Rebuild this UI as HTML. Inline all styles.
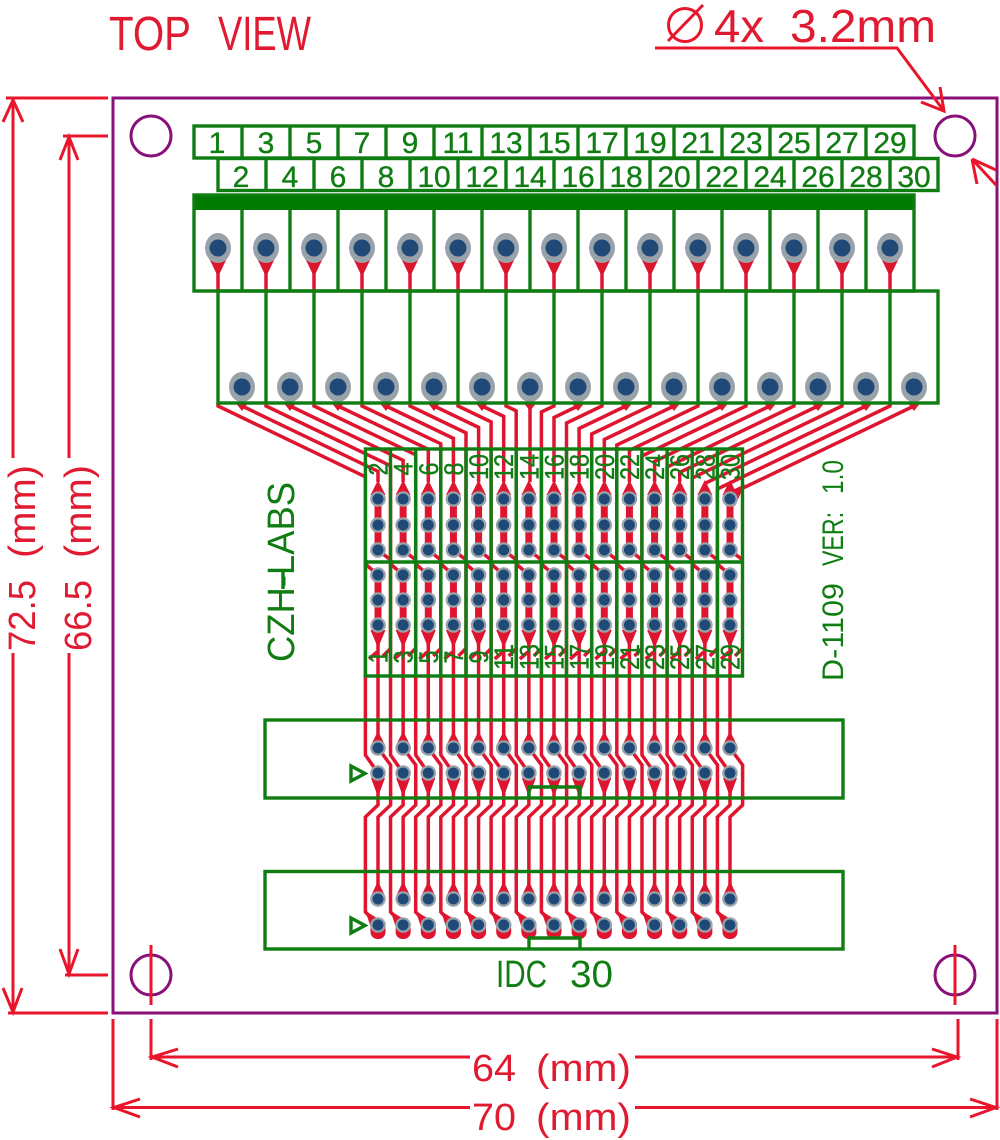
<!DOCTYPE html>
<html>
<head>
<meta charset="utf-8">
<style>
html,body{margin:0;padding:0;background:#fff}
svg{display:block}
text{font-family:"Liberation Sans",sans-serif}
.r{fill:none;stroke:#df1530;stroke-width:3.5}
.d{fill:none;stroke:#e8152b;stroke-width:3}
.gt text{fill:#0f7d12;stroke:#0f7d12;stroke-width:.35}
text.g{fill:#0f7d12}
.rt{fill:#e01a30}
.gs{fill:none;stroke:#0f7d12;stroke-width:3.4}
</style>
</head>
<body>
<svg width="1000" height="1140" viewBox="0 0 1000 1140" xmlns="http://www.w3.org/2000/svg">
<defs>
<g id="pad"><circle r="7.8" fill="#99a2a8"/><circle r="5.5" fill="#1f4a78"/></g>
<g id="top"><polygon points="-9,258 9,258 0,277" fill="#df1530"/><line x1="0" y1="270" x2="0" y2="291" stroke="#df1530" stroke-width="3.5"/><ellipse cy="248" rx="13" ry="15" fill="#99a2a8"/><circle cy="248" r="8.5" fill="#1f4a78"/></g>
<g id="bot"><polygon points="-7,402 7,402 0,411" fill="#df1530"/><ellipse cy="387" rx="13" ry="15" fill="#99a2a8"/><circle cy="387" r="8.5" fill="#1f4a78"/></g>
<g id="col">
<path class="r" d="M-12.6 676V755L0 773M0 640V748M0 748L12.6 765V805L0 817V899M0 773V805L-12.6 817V912L0 925"/>
<path d="M0 490V550M0 575V635" stroke="#df1530" stroke-width="7" fill="none"/>
<polygon points="-7.500,495 0,480 7.500,495" fill="#df1530"/>
<polygon points="-7.500,630 0,648 7.500,630" fill="#df1530"/>
<path class="r" d="M0 550L12.6 560M-12.6 564L0 575M-9 659L-1 652M5 656L12 649"/>
<polygon points="-7,745 0,731 7,745" fill="#df1530"/>
<polygon points="-7,778 0,797 7,778" fill="#df1530"/>
<polygon points="-7,896 0,881 7,896" fill="#df1530"/>
<polygon points="-12.600,911 -1,918 -7,928" fill="#df1530"/>
<rect x="-7.500" y="922" width="15" height="17" rx="7" fill="#df1530"/>
<use href="#pad" y="499"/><use href="#pad" y="525"/><use href="#pad" y="550"/>
<use href="#pad" y="575"/><use href="#pad" y="600"/><use href="#pad" y="625"/>
<use href="#pad" y="748"/><use href="#pad" y="773"/><use href="#pad" y="899"/><use href="#pad" y="925"/>
</g>
</defs>

<!-- board -->
<rect x="113" y="98" width="884" height="915" fill="#fff" stroke="#8a0f78" stroke-width="3"/>
<g fill="none" stroke="#8a0f78" stroke-width="3">
<circle cx="151" cy="136" r="20"/><circle cx="955" cy="136" r="20"/><circle cx="151" cy="975" r="20"/><circle cx="955" cy="975" r="20"/>
</g>

<!-- traces: odd -->
<g class="r">
<path d="M218 403V406L365.4 476.8V676"/><path d="M266 403V406L390.5 465.8V676"/><path d="M314 403V406L415.7 454.8V676"/><path d="M362 403V406L440.8 443.8V676"/><path d="M410 403V406L466 432.9V676"/><path d="M458 403V406L491.1 421.9V676"/><path d="M506 403V406L516.2 410.9V676"/><path d="M554 403V406L541.4 412V676"/><path d="M602 403V406L566.5 423V676"/><path d="M650 403V406L591.7 434V676"/><path d="M698 403V406L616.8 445V676"/><path d="M746 403V406L641.9 456V676"/><path d="M794 403V406L667.1 467V676"/><path d="M842 403V406L692.2 478V676"/><path d="M890 403V406L717.4 489V676"/>
<!-- even -->
<path d="M242 403V406L378 471.3V482"/><path d="M290 403V406L403.1 460.3V482"/><path d="M338 403V406L428.3 449.3V482"/><path d="M386 403V406L453.4 438.4V482"/><path d="M434 403V406L478.6 427.4V482"/><path d="M482 403V406L503.7 416.4V482"/><path d="M530 403V482"/><path d="M578 403V406L554 417.5V482"/><path d="M626 403V406L579.1 428.5V482"/><path d="M674 403V406L604.3 439.5V482"/><path d="M722 403V406L629.4 450.4V482"/><path d="M770 403V406L654.6 461.4V482"/><path d="M818 403V406L679.7 472.4V482"/><path d="M866 403V406L704.9 483.4"/><path d="M914 403V406L730 494.3"/>
</g>
<polygon points="745,484 724,494 735,506" fill="#df1530"/>

<!-- columns -->
<use href="#col" x="378"/><use href="#col" x="403.14"/><use href="#col" x="428.29"/><use href="#col" x="453.43"/><use href="#col" x="478.57"/><use href="#col" x="503.71"/><use href="#col" x="528.86"/><use href="#col" x="554"/><use href="#col" x="579.14"/><use href="#col" x="604.29"/><use href="#col" x="629.43"/><use href="#col" x="654.57"/><use href="#col" x="679.71"/><use href="#col" x="704.86"/><use href="#col" x="730"/>

<!-- terminal pads -->
<use href="#top" x="218"/><use href="#top" x="266"/><use href="#top" x="314"/><use href="#top" x="362"/><use href="#top" x="410"/><use href="#top" x="458"/><use href="#top" x="506"/><use href="#top" x="554"/><use href="#top" x="602"/><use href="#top" x="650"/><use href="#top" x="698"/><use href="#top" x="746"/><use href="#top" x="794"/><use href="#top" x="842"/><use href="#top" x="890"/>
<use href="#bot" x="242"/><use href="#bot" x="290"/><use href="#bot" x="338"/><use href="#bot" x="386"/><use href="#bot" x="434"/><use href="#bot" x="482"/><use href="#bot" x="530"/><use href="#bot" x="578"/><use href="#bot" x="626"/><use href="#bot" x="674"/><use href="#bot" x="722"/><use href="#bot" x="770"/><use href="#bot" x="818"/><use href="#bot" x="866"/><use href="#bot" x="914"/>

<!-- silkscreen -->
<rect x="194" y="195" width="721" height="15" fill="#007a00"/>
<g class="gs">
<rect x="194" y="126" width="720" height="32"/>
<rect x="218" y="158.5" width="720" height="32"/>
<rect x="194" y="195" width="720" height="96"/>
<rect x="218" y="291" width="720" height="112"/>
<path d="M242 126V158M290 126V158M338 126V158M386 126V158M434 126V158M482 126V158M530 126V158M578 126V158M626 126V158M674 126V158M722 126V158M770 126V158M818 126V158M866 126V158"/>
<path d="M266 158V190M314 158V190M362 158V190M410 158V190M458 158V190M506 158V190M554 158V190M602 158V190M650 158V190M698 158V190M746 158V190M794 158V190M842 158V190M890 158V190"/>
<path d="M242 210V291M290 210V291M338 210V291M386 210V291M434 210V291M482 210V291M530 210V291M578 210V291M626 210V291M674 210V291M722 210V291M770 210V291M818 210V291M866 210V291"/>
<path d="M266 291V403M314 291V403M362 291V403M410 291V403M458 291V403M506 291V403M554 291V403M602 291V403M650 291V403M698 291V403M746 291V403M794 291V403M842 291V403M890 291V403"/>
<rect x="365.4" y="449" width="377.1" height="227"/>
<line x1="365.4" y1="562" x2="742.5" y2="562"/>
<path d="M390.5 449V676M415.7 449V676M440.8 449V676M466 449V676M491.1 449V676M516.2 449V676M541.4 449V676M566.5 449V676M591.7 449V676M616.8 449V676M641.9 449V676M667.1 449V676M692.2 449V676M717.4 449V676"/>
<rect x="265" y="720" width="578" height="78"/>
<path d="M529 798V787H580V798"/>
<rect x="265" y="871.5" width="578" height="77.5"/>
<path d="M529 949V938H580V949"/>
<polygon points="351,766 365,773.500 351,781"/>
<polygon points="351,918 365,925.500 351,933"/>
<line x1="283" y1="589" x2="283" y2="570"/>
</g>

<!-- terminal labels -->
<g class="gt" font-size="30" text-anchor="middle">
<text x="217" y="153">1</text><text x="266" y="153">3</text><text x="314" y="153">5</text><text x="362" y="153">7</text><text x="410" y="153">9</text><text x="458" y="153">11</text><text x="506" y="153">13</text><text x="554" y="153">15</text><text x="602" y="153">17</text><text x="650" y="153">19</text><text x="698" y="153">21</text><text x="746" y="153">23</text><text x="794" y="153">25</text><text x="842" y="153">27</text><text x="890" y="153">29</text>
<text x="241" y="187">2</text><text x="290" y="187">4</text><text x="338" y="187">6</text><text x="386" y="187">8</text><text x="434" y="187">10</text><text x="482" y="187">12</text><text x="530" y="187">14</text><text x="578" y="187">16</text><text x="626" y="187">18</text><text x="674" y="187">20</text><text x="722" y="187">22</text><text x="770" y="187">24</text><text x="818" y="187">26</text><text x="866" y="187">28</text><text x="914" y="187">30</text>
</g>

<!-- header labels -->
<g class="gt" font-size="27" text-anchor="middle">
<text transform="translate(387.500 469) rotate(-90)" textLength="13" lengthAdjust="spacingAndGlyphs">2</text>
<text transform="translate(412.600 469) rotate(-90)" textLength="13" lengthAdjust="spacingAndGlyphs">4</text>
<text transform="translate(437.800 469) rotate(-90)" textLength="13" lengthAdjust="spacingAndGlyphs">6</text>
<text transform="translate(462.900 469) rotate(-90)" textLength="13" lengthAdjust="spacingAndGlyphs">8</text>
<text transform="translate(488.100 467) rotate(-90)" textLength="26" lengthAdjust="spacingAndGlyphs">10</text>
<text transform="translate(513.200 467) rotate(-90)" textLength="26" lengthAdjust="spacingAndGlyphs">12</text>
<text transform="translate(538.400 467) rotate(-90)" textLength="26" lengthAdjust="spacingAndGlyphs">14</text>
<text transform="translate(563.500 467) rotate(-90)" textLength="26" lengthAdjust="spacingAndGlyphs">16</text>
<text transform="translate(588.600 467) rotate(-90)" textLength="26" lengthAdjust="spacingAndGlyphs">18</text>
<text transform="translate(613.800 467) rotate(-90)" textLength="26" lengthAdjust="spacingAndGlyphs">20</text>
<text transform="translate(638.900 467) rotate(-90)" textLength="26" lengthAdjust="spacingAndGlyphs">22</text>
<text transform="translate(664.100 467) rotate(-90)" textLength="26" lengthAdjust="spacingAndGlyphs">24</text>
<text transform="translate(689.200 467) rotate(-90)" textLength="26" lengthAdjust="spacingAndGlyphs">26</text>
<text transform="translate(714.400 467) rotate(-90)" textLength="26" lengthAdjust="spacingAndGlyphs">28</text>
<text transform="translate(739.500 467) rotate(-90)" textLength="26" lengthAdjust="spacingAndGlyphs">30</text>
<text transform="translate(387.500 657) rotate(-90)" textLength="13" lengthAdjust="spacingAndGlyphs">1</text>
<text transform="translate(412.600 657) rotate(-90)" textLength="13" lengthAdjust="spacingAndGlyphs">3</text>
<text transform="translate(437.800 657) rotate(-90)" textLength="13" lengthAdjust="spacingAndGlyphs">5</text>
<text transform="translate(462.900 657) rotate(-90)" textLength="13" lengthAdjust="spacingAndGlyphs">7</text>
<text transform="translate(488.100 657) rotate(-90)" textLength="13" lengthAdjust="spacingAndGlyphs">9</text>
<text transform="translate(513.200 657) rotate(-90)" textLength="26" lengthAdjust="spacingAndGlyphs">11</text>
<text transform="translate(538.400 657) rotate(-90)" textLength="26" lengthAdjust="spacingAndGlyphs">13</text>
<text transform="translate(563.500 657) rotate(-90)" textLength="26" lengthAdjust="spacingAndGlyphs">15</text>
<text transform="translate(588.600 657) rotate(-90)" textLength="26" lengthAdjust="spacingAndGlyphs">17</text>
<text transform="translate(613.800 657) rotate(-90)" textLength="26" lengthAdjust="spacingAndGlyphs">19</text>
<text transform="translate(638.900 657) rotate(-90)" textLength="26" lengthAdjust="spacingAndGlyphs">21</text>
<text transform="translate(664.100 657) rotate(-90)" textLength="26" lengthAdjust="spacingAndGlyphs">23</text>
<text transform="translate(689.200 657) rotate(-90)" textLength="26" lengthAdjust="spacingAndGlyphs">25</text>
<text transform="translate(714.400 657) rotate(-90)" textLength="26" lengthAdjust="spacingAndGlyphs">27</text>
<text transform="translate(739.500 657) rotate(-90)" textLength="26" lengthAdjust="spacingAndGlyphs">29</text>
</g>

<!-- board text -->
<text class="g" font-size="38" transform="translate(294 662) rotate(-90)" textLength="180" lengthAdjust="spacingAndGlyphs">CZH-LABS</text>
<text class="g" font-size="30" transform="translate(843 681) rotate(-90)" textLength="98" lengthAdjust="spacingAndGlyphs">D-1109</text>
<text class="g" font-size="30" transform="translate(843 566) rotate(-90)" textLength="54" lengthAdjust="spacingAndGlyphs">VER:</text>
<text class="g" font-size="30" transform="translate(843 494) rotate(-90)" textLength="34" lengthAdjust="spacingAndGlyphs">1.0</text>
<text class="g" font-size="38" x="496" y="987" textLength="51" lengthAdjust="spacingAndGlyphs">IDC</text>
<text class="g" font-size="38" x="570" y="987" textLength="43" lengthAdjust="spacingAndGlyphs">30</text>

<!-- dimensions -->
<g class="d">
<path d="M655 48H897L944 111M940 87L944 111L921 102"/>
<path d="M668 41L703 5"/><circle cx="685" cy="25" r="16.500"/>
<path d="M972 159L977 184M972 159L996 185M972 159L996 170"/>
<path d="M6 98H108M8 1013H108M13 100V458M13 653V1012M3 122L13 100L23 122M3 988L13 1012L22 988"/>
<path d="M63 136H108M65 975H108M69 137V458M69 653V974M60 160L69 137L78 160M60 949L69 974L78 949"/>
<path d="M151 945V1005M955 945V1005"/>
<path d="M151 1019V1060M958 1019V1060M113 1019V1110M997 1019V1110"/>
<path d="M152 1057H470M635 1057H957M178 1049L152 1057L178 1067M932 1049L957 1057L932 1067"/>
<path d="M114 1107.500H470M635 1107.500H996M140 1099L114 1107.500L140 1117M970 1099L996 1107.500L970 1117"/>
</g>
<text class="rt" font-size="48" x="109" y="50" textLength="82" lengthAdjust="spacingAndGlyphs">TOP</text>
<text class="rt" font-size="48" x="218" y="50" textLength="93" lengthAdjust="spacingAndGlyphs">VIEW</text>
<text class="rt" font-size="46" x="714" y="42" textLength="50" lengthAdjust="spacingAndGlyphs">4x</text>
<text class="rt" font-size="46" x="790" y="42" textLength="146" lengthAdjust="spacingAndGlyphs">3.2mm</text>
<text class="rt" font-size="38" transform="translate(35 651) rotate(-90)" textLength="71" lengthAdjust="spacingAndGlyphs">72.5</text>
<text class="rt" font-size="38" transform="translate(35 558) rotate(-90)" textLength="93" lengthAdjust="spacingAndGlyphs">(mm)</text>
<text class="rt" font-size="38" transform="translate(91 651) rotate(-90)" textLength="71" lengthAdjust="spacingAndGlyphs">66.5</text>
<text class="rt" font-size="38" transform="translate(91 558) rotate(-90)" textLength="93" lengthAdjust="spacingAndGlyphs">(mm)</text>
<text class="rt" font-size="38" x="472" y="1081" textLength="44" lengthAdjust="spacingAndGlyphs">64</text>
<text class="rt" font-size="38" x="536" y="1081" textLength="95" lengthAdjust="spacingAndGlyphs">(mm)</text>
<text class="rt" font-size="38" x="472" y="1130" textLength="44" lengthAdjust="spacingAndGlyphs">70</text>
<text class="rt" font-size="38" x="536" y="1130" textLength="95" lengthAdjust="spacingAndGlyphs">(mm)</text>
</svg>
</body>
</html>
